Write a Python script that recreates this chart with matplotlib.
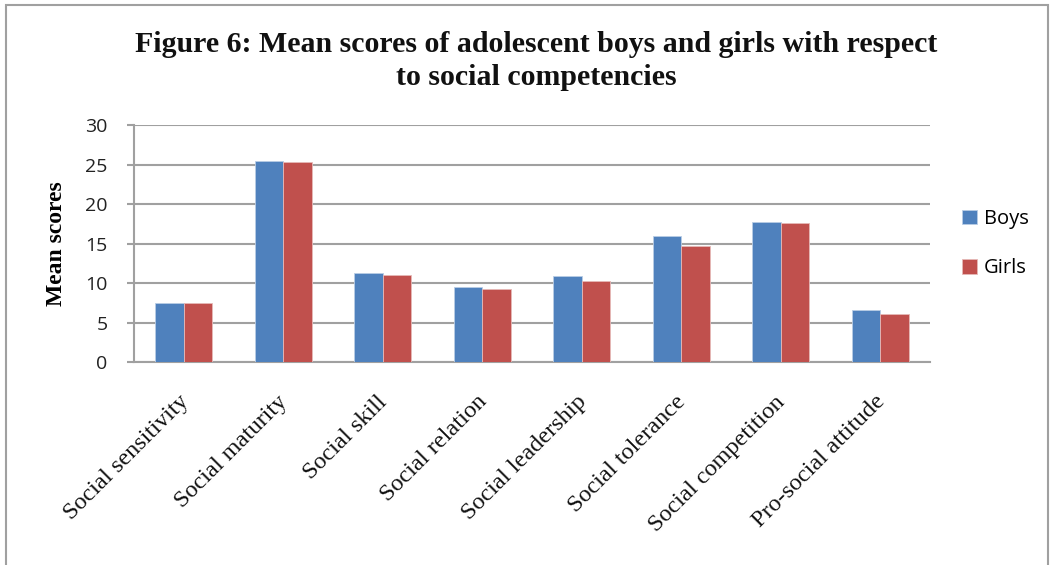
import numpy as np
import matplotlib.pyplot as plt
from matplotlib.patches import Rectangle

# Data
categories = ['Social sensitivity', 'Social maturity', 'Social skill', 'Social relation',
              'Social leadership', 'Social tolerance', 'Social competition', 'Pro-social attitude']
boys = [7.50, 25.41, 11.29, 9.48, 10.87, 15.93, 17.78, 6.62]
girls = [7.46, 25.28, 11.04, 9.27, 10.32, 14.71, 17.57, 6.11]
y_ticks = [0, 5, 10, 15, 20, 25, 30]

blue = '#4F81BD'
red = '#C0504D'
grid_col = '#A0A0A0'
serif = 'Liberation Serif'
sans = 'Open Sans'

fig = plt.figure(figsize=(10.5, 5.65), dpi=100)
ax = fig.add_axes([0.1276, 0.3588, 0.7581, 0.4200])

x = np.arange(len(categories))
w = 1 / 3.5
ax.bar(x - w / 2, boys, width=w, color=blue, edgecolor='#B9CDE5', linewidth=0.6, label='Boys', zorder=3)
ax.bar(x + w / 2, girls, width=w, color=red, edgecolor='#E6B9B8', linewidth=0.6, label='Girls', zorder=3)

ax.set_xlim(-0.5, len(categories) - 0.5)
ax.set_ylim(0, 30)
ax.set_yticks(y_ticks)
ax.set_yticklabels([str(t) for t in y_ticks], fontfamily=sans, fontsize=14, color='#222222')
ax.yaxis.grid(True, color=grid_col, linewidth=1.5, zorder=0)
ax.set_axisbelow(True)

for s in ['top', 'right']:
    ax.spines[s].set_visible(False)
ax.spines['left'].set_color(grid_col)
ax.spines['left'].set_linewidth(1.5)
ax.spines['bottom'].set_color(grid_col)
ax.spines['bottom'].set_linewidth(1.5)
ax.tick_params(axis='y', length=5, width=1.5, color=grid_col, pad=14)
ax.tick_params(axis='x', length=0, pad=21)

ax.set_xticks(x - 0.06)
ax.set_xticklabels(categories, rotation=45, ha='right', va='top', rotation_mode='anchor',
                   fontfamily=serif, fontsize=17.5, color='#111111')

ax.set_ylabel('Mean scores', fontfamily=serif, fontweight='bold', fontsize=17, labelpad=13)

fig.text(0.511, 0.892, 'Figure 6: Mean scores of adolescent boys and girls with respect\nto social competencies',
         ha='center', va='center', fontfamily=serif, fontweight='bold', fontsize=21.5, linespacing=1.3,
         color='#111111')

leg = ax.legend(loc='center left', bbox_to_anchor=(1.017, 0.50), frameon=False,
                prop={'family': sans, 'size': 14.5}, handlelength=0.75, handleheight=0.75,
                labelspacing=1.45, handletextpad=0.35)

# outer chart border
fig.patches.append(Rectangle((6 / 1050, -0.05), 1042 / 1050, 1 - 5 / 565 + 0.05,
                             transform=fig.transFigure, fill=False, edgecolor='#A0A0A0', linewidth=1.5))

fig.savefig('out.png', dpi=100)
